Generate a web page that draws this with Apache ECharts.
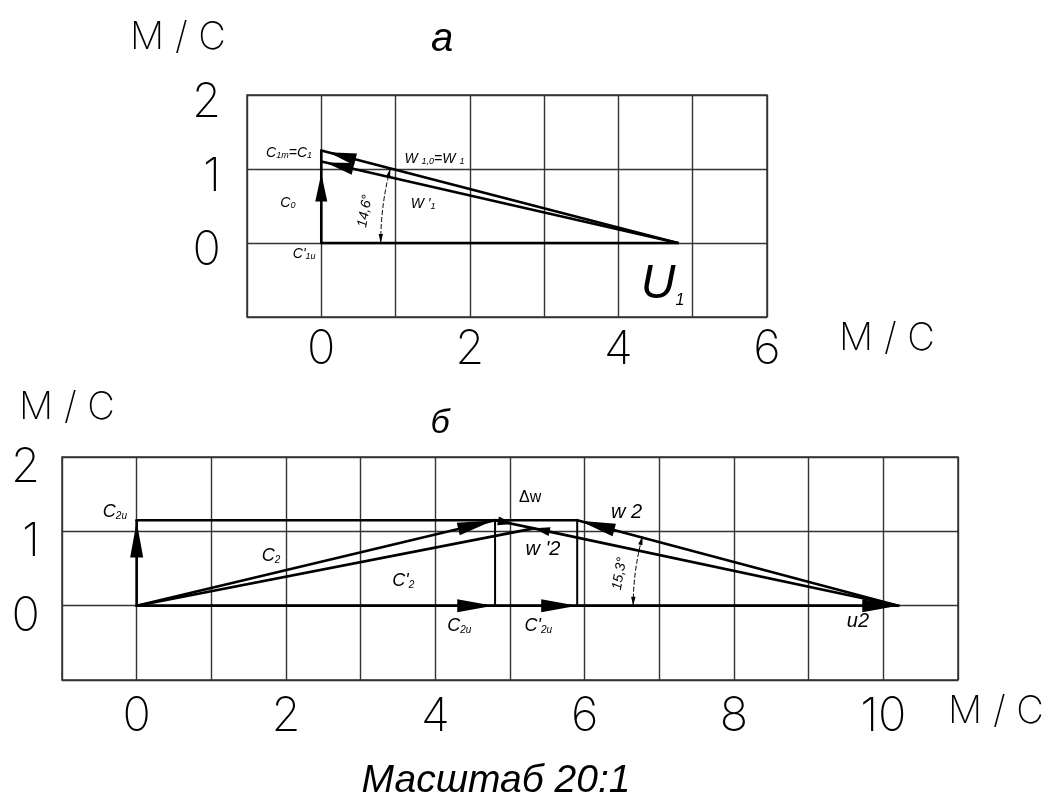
<!DOCTYPE html>
<html><head><meta charset="utf-8">
<script src="https://cdn.jsdelivr.net/npm/echarts@6/dist/echarts.min.js"></script>
<style>html,body{margin:0;padding:0;background:#fff}#c{width:1046px;height:799px}</style>
</head><body><div id="c"></div>
<script>
// ================= DATA (velocities, m/s) =================
// Diagram "а"
const topXTickLabels = [0, 2, 4, 6];
const topYTickLabels = [0, 1, 2];
const u1 = 4.8;            // U1
const c1m = 1.25;          // C1m = C1
const c1mPrime = 1.1;      // end of W'1
const c0Tip = 0.94;        // C0
const beta1 = 14.6;        // angle, deg
// Diagram "б"
const botXTickLabels = [0, 2, 4, 6, 8, 10];
const botYTickLabels = [0, 1, 2];
const u2 = 10.2;           // u2
const c2m = 1.15;          // C2m
const c2u = 4.8;           // C2u
const c2uPrime = 5.9;      // C'2u
const c2PrimeEnd = [5.32, 1.04]; // tip of C'2
const beta2 = 15.3;        // angle, deg

// ================= geometry built from the data =================
const topThick = [
  [0, 0, u1, 0],            // U1
  [0, 0, 0, c1m],           // C1m
  [u1, 0, 0, c1m],          // W1
  [u1, 0, 0, c1mPrime]      // W'1
];
const botThick = [
  [0, 0, u2, 0],            // u2
  [0, 0, 0, c2m],           // C2m
  [0, c2m, c2uPrime, c2m],  // top horizontal
  [0, 0, c2u, c2m],         // C2
  [0, 0, c2PrimeEnd[0], c2PrimeEnd[1]], // C'2
  [u2, 0, c2uPrime, c2m],   // w2
  [u2, 0, c2PrimeEnd[0], c2PrimeEnd[1]], // w'2
  [c2u, c2m, c2PrimeEnd[0], c2PrimeEnd[1]] // Δw
];
const botThin = [
  [c2u, 0, c2u, c2m],
  [c2uPrime, 0, c2uPrime, c2m]
];
// arrows: vector + fraction of the vector where the tip sits
const topArrows = [
  [0, 0, 0, c1m, c0Tip / c1m],
  [u1, 0, 0, c1m, 0.98],
  [u1, 0, 0, c1mPrime, 0.9875]
];
const botArrowsBig = [
  [0, 0, 0, c2m, 0.985],
  [0, 0, c2u, c2m, 0.995],
  [u2, 0, c2uPrime, c2m, 0.993],
  [0, 0, c2u, 0, 0.995],
  [0, 0, c2uPrime, 0, 1],
  [0, 0, u2, 0, 1]
];
const botArrowsSmall = [
  [u2, 0, c2PrimeEnd[0], c2PrimeEnd[1], 1],
  [c2u, c2m, c2PrimeEnd[0], c2PrimeEnd[1], 0.48]
];
const arcsTop = [[u1, 0, 4.0, beta1]];
const arcsBot = [[u2, 0, 3.55, beta2]];

// ================= text annotations (data coords) =================
const topNotes = [
  {x: -0.125, y: 1.22, align: 'right', text: '{i|C}{s|1m}{i|=C}{s|1}'},
  {x: 1.12, y: 1.13, align: 'left', text: '{i|W }{s|1,0}{i|=W }{s|1}'},
  {x: -0.45, y: 0.54, text: '{i|C}{s|0}'},
  {x: 1.37, y: 0.53, text: "{i|W '}{s|1}"},
  {x: -0.23, y: -0.15, text: "{i|C'}{s|1u}"},
  {x: 0.59, y: 0.43, rot: 80, text: '{r|14,6°}'},
  {x: 4.3, y: -0.56, align: 'left', text: '{big|U}{bs|1}'}
];
const botNotes = [
  {x: -0.13, y: 1.26, align: 'right', text: '{m|C}{ms|2u}'},
  {x: 1.8, y: 0.67, text: '{m|C}{ms|2}'},
  {x: 3.57, y: 0.33, text: "{m|C'}{ms|2}"},
  {x: 5.27, y: 1.46, text: '{d|Δw}'},
  {x: 6.56, y: 1.26, text: '{w|w 2}'},
  {x: 5.44, y: 0.76, text: "{w|w '2}"},
  {x: 6.47, y: 0.43, rot: 80, text: '{r|15,3°}'},
  {x: 4.32, y: -0.27, text: '{m|C}{ms|2u}'},
  {x: 5.38, y: -0.27, text: "{m|C'}{ms|2u}"},
  {x: 9.66, y: -0.21, text: '{w|u2}'}
];

const AXIS_FONT = "Inter,'DejaVu Sans',sans-serif";
const ITAL = "'Liberation Sans',Arial,sans-serif";
const RICH = {
  i: {fontFamily: ITAL, fontStyle: 'italic', fontSize: 14, fill: '#000'},
  s: {fontFamily: ITAL, fontStyle: 'italic', fontSize: 9, fill: '#000', verticalAlign: 'bottom'},
  r: {fontFamily: ITAL, fontStyle: 'italic', fontSize: 14, fill: '#000'},
  big: {fontFamily: ITAL, fontStyle: 'italic', fontSize: 48, fill: '#000'},
  bs: {fontFamily: ITAL, fontStyle: 'italic', fontSize: 16, fill: '#000', verticalAlign: 'bottom'},
  m: {fontFamily: ITAL, fontStyle: 'italic', fontSize: 18, fill: '#000'},
  ms: {fontFamily: ITAL, fontStyle: 'italic', fontSize: 10, fill: '#000', verticalAlign: 'bottom'},
  d: {fontFamily: ITAL, fontSize: 16, fill: '#000'},
  w: {fontFamily: ITAL, fontStyle: 'italic', fontSize: 20, fill: '#000'}
};

function xAxisCfg(gi, min, max, labels, margin) {
  return {gridIndex: gi, type: 'value', min, max, interval: 1,
    axisLine: {show: false}, axisTick: {show: false},
    splitLine: {show: true, lineStyle: {color: '#333', width: 1.4}},
    axisLabel: {show: true, margin, color: '#000', fontFamily: AXIS_FONT, fontWeight: 200, fontSize: 47,
      showMinLabel: true, showMaxLabel: true,
      formatter: v => labels.includes(v) ? String(v) : ''}};
}
function yAxisCfg(gi, min, max, labels, margin, lh) {
  return {gridIndex: gi, type: 'value', min, max, interval: 1,
    axisLine: {show: false}, axisTick: {show: false},
    splitLine: {show: true, lineStyle: {color: '#333', width: 1.4}},
    axisLabel: {show: true, margin, color: '#000', fontFamily: AXIS_FONT, fontWeight: 200, fontSize: 47,
      verticalAlign: 'top', lineHeight: lh,
      showMinLabel: true, showMaxLabel: true,
      formatter: v => labels.includes(v) ? String(v) : ''}};
}

function segSeries(gi, data, width) {
  return {type: 'custom', xAxisIndex: gi, yAxisIndex: gi, data, silent: true, z: 5, clip: false,
    renderItem(params, api) {
      const a = api.coord([api.value(0), api.value(1)]);
      const b = api.coord([api.value(2), api.value(3)]);
      return {type: 'line', shape: {x1: a[0], y1: a[1], x2: b[0], y2: b[1]},
        style: {stroke: '#000', lineWidth: width, lineCap: 'round'}};
    }};
}
function arrowSeries(gi, data, L, hw) {
  return {type: 'custom', xAxisIndex: gi, yAxisIndex: gi, data, silent: true, z: 6, clip: false,
    renderItem(params, api) {
      const a = api.coord([api.value(0), api.value(1)]);
      const b = api.coord([api.value(2), api.value(3)]);
      const t = api.value(4);
      const tip = [a[0] + t * (b[0] - a[0]), a[1] + t * (b[1] - a[1])];
      const len = Math.hypot(b[0] - a[0], b[1] - a[1]);
      const ux = (b[0] - a[0]) / len, uy = (b[1] - a[1]) / len;
      const bx = tip[0] - L * ux, by = tip[1] - L * uy;
      return {type: 'polygon', shape: {points: [tip, [bx - hw * uy, by + hw * ux], [bx + hw * uy, by - hw * ux]]},
        style: {fill: '#000'}};
    }};
}
function arcSeries(gi, data) {
  return {type: 'custom', xAxisIndex: gi, yAxisIndex: gi, data, silent: true, z: 6, clip: false,
    renderItem(params, api) {
      const cx = api.value(0), cy = api.value(1), r = api.value(2), ang = api.value(3);
      const pts = [];
      const N = 40;
      for (let k = 0; k <= N; k++) {
        const th = ang * k / N * Math.PI / 180;
        pts.push(api.coord([cx - r * Math.cos(th), cy + r * Math.sin(th)]));
      }
      const head = (p, q) => { // tip p, coming from q
        const dx = p[0] - q[0], dy = p[1] - q[1], l = Math.hypot(dx, dy);
        const ux = dx / l, uy = dy / l, L = 9, hw = 2.2;
        const bx = p[0] - L * ux, by = p[1] - L * uy;
        return {type: 'polygon', shape: {points: [p, [bx - hw * uy, by + hw * ux], [bx + hw * uy, by - hw * ux]]}, style: {fill: '#000'}};
      };
      return {type: 'group', children: [
        {type: 'polyline', shape: {points: pts}, style: {stroke: '#000', lineWidth: 1, lineDash: [5, 2], fill: null}},
        head(pts[0], pts[3]),
        head(pts[N], pts[N - 3])
      ]};
    }};
}
function noteSeries(gi, notes) {
  return {type: 'custom', xAxisIndex: gi, yAxisIndex: gi, data: notes.map(n => [n.x, n.y]), silent: true, z: 7, clip: false,
    renderItem(params, api) {
      const n = notes[params.dataIndex];
      const p = api.coord([api.value(0), api.value(1)]);
      return {type: 'text', x: p[0], y: p[1], rotation: (n.rot || 0) * Math.PI / 180,
        style: {text: n.text, rich: RICH, align: n.align || 'center', verticalAlign: 'middle', fill: '#000'}};
    }};
}

const chart = echarts.init(document.getElementById('c'), null, {renderer: 'canvas'});
const UNIT_FONT = "Inter,'DejaVu Sans',sans-serif";
chart.setOption({
  animation: false,
  backgroundColor: '#fff',
  grid: [
    {left: 247, top: 95, width: 520, height: 222, show: true, borderColor: '#333', borderWidth: 1.5, backgroundColor: 'transparent'},
    {left: 62, top: 457, width: 896, height: 223, show: true, borderColor: '#333', borderWidth: 1.5, backgroundColor: 'transparent'}
  ],
  xAxis: [xAxisCfg(0, -1, 6, topXTickLabels, 9), xAxisCfg(1, -1, 11, botXTickLabels, 13)],
  yAxis: [yAxisCfg(0, -1, 2, topYTickLabels, 26, 16), yAxisCfg(1, -1, 2, botYTickLabels, 22, 22)],
  graphic: [
    {type: 'text', x: 178, y: 38, style: {text: 'М / С', font: `200 38px ${UNIT_FONT}`, align: 'center', verticalAlign: 'middle', fill: '#000'}},
    {type: 'text', x: 887, y: 339, style: {text: 'М / С', font: `200 38px ${UNIT_FONT}`, align: 'center', verticalAlign: 'middle', fill: '#000'}},
    {type: 'text', x: 67, y: 408, style: {text: 'М / С', font: `200 38px ${UNIT_FONT}`, align: 'center', verticalAlign: 'middle', fill: '#000'}},
    {type: 'text', x: 996, y: 712, style: {text: 'М / С', font: `200 38px ${UNIT_FONT}`, align: 'center', verticalAlign: 'middle', fill: '#000'}},
    {type: 'text', x: 442, y: 40, style: {text: 'а', font: `italic 40px ${ITAL}`, align: 'center', verticalAlign: 'middle', fill: '#000'}},
    {type: 'text', x: 440, y: 424, style: {text: 'б', font: `italic 34px ${ITAL}`, align: 'center', verticalAlign: 'middle', fill: '#000'}},
    {type: 'text', x: 496, y: 781, style: {text: 'Масштаб 20:1', font: `italic 39px ${ITAL}`, align: 'center', verticalAlign: 'middle', fill: '#000'}}
  ],
  series: [
    segSeries(0, topThick, 2.6),
    arrowSeries(0, topArrows, 28, 6),
    arcSeries(0, arcsTop),
    noteSeries(0, topNotes),
    segSeries(1, botThick, 2.6),
    segSeries(1, botThin, 2),
    arrowSeries(1, botArrowsBig, 36, 6.5),
    arrowSeries(1, botArrowsSmall, 16, 4.5),
    arcSeries(1, arcsBot),
    noteSeries(1, botNotes)
  ]
});
</script></body></html>
